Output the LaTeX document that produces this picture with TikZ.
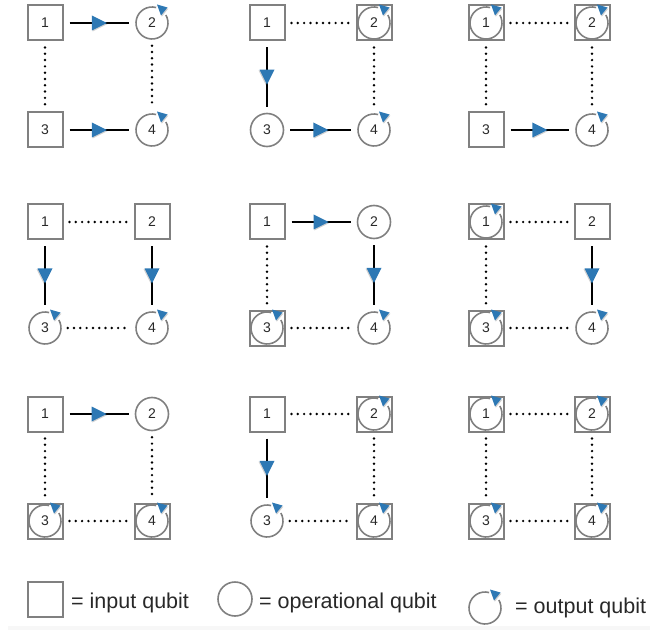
\documentclass[tikz,border=0pt]{standalone}
\usepackage{fontspec}
\setmainfont{Liberation Sans}
\usetikzlibrary{decorations.markings}

\definecolor{qgray}{RGB}{128,128,128}
\definecolor{qblue}{RGB}{45,120,180}
\definecolor{qtext}{RGB}{40,40,40}

\tikzset{
  qbase/.style={inner sep=0pt, text=qtext, font=\fontsize{14}{14}\selectfont},
  inq/.style={qbase, rectangle, draw=qgray, line width=2pt, minimum size=35pt},
  opq/.style={qbase, circle, draw=qgray, line width=1.6pt, minimum size=33pt},
  outq/.style={qbase, circle, minimum size=33pt},
  ring/.style={draw=qgray, line width=1.6pt},
  flow/.style={draw=black, line width=1.9pt, shorten <=6pt, shorten >=6pt,
    postaction={decorate},
    decoration={markings, mark=at position 0.5 with
      {\fill[black, opacity=0.18] (-6.7,6.5) -- (8.3,-1) -- (-6.7,-8.5) -- cycle;
       \fill[qblue] (-7.5,7.5) -- (7.5,0) -- (-7.5,-7.5) -- cycle;}}},
  link/.style={draw=black, line width=2.7pt, line cap=round,
    dash pattern=on 0pt off 6.3pt, shorten <=6pt, shorten >=6pt},
  legtext/.style={anchor=base west, inner sep=0pt, text=qtext,
    font=\fontsize{21.5}{21.5}\selectfont},
}

% open ring with a blue arrowhead at its upper right: marks an output qubit
\newcommand{\outring}[1]{%
  \draw[ring] ([shift={(75:16)}]#1.center) arc[start angle=75, end angle=390, radius=16];
  \fill[black, opacity=0.18] ([shift={(5.8,17.3)}]#1.center) -- ([shift={(16.3,14.3)}]#1.center)
    -- ([shift={(9.8,6.3)}]#1.center) -- cycle;
  \fill[qblue] ([shift={(5,18.5)}]#1.center) -- ([shift={(15.5,15.5)}]#1.center)
    -- ([shift={(9,7.5)}]#1.center) -- cycle;}

\begin{document}
\begin{tikzpicture}[x=1pt, y=1pt]
\useasboundingbox (0,0) rectangle (650,630);
\fill[gray!6] (8,0) rectangle (650,4);

% ---- row 1 ----
\node[inq]  (a1) at (45,607)  {1};
\node[outq] (a2) at (152,607) {2};
\node[inq]  (a3) at (45,500)  {3};
\node[outq] (a4) at (152,500) {4};
\draw[link] (a1) -- (a3);
\draw[link] (a2) -- (a4);
\draw[flow] (a1) -- (a2);
\draw[flow] (a3) -- (a4);
\outring{a2}\outring{a4}

\node[inq]  (b1) at (267,607) {1};
\node[inq]  (b2) at (374,607) {2};
\node[opq]  (b3) at (267,500) {3};
\node[outq] (b4) at (374,500) {4};
\draw[link] (b1) -- (b2);
\draw[link] (b2) -- (b4);
\draw[flow] (b1) -- (b3);
\draw[flow] (b3) -- (b4);
\outring{b2}\outring{b4}

\node[inq]  (c1) at (486,607) {1};
\node[inq]  (c2) at (592,607) {2};
\node[inq]  (c3) at (486,500) {3};
\node[outq] (c4) at (592,500) {4};
\draw[link] (c1) -- (c2);
\draw[link] (c1) -- (c3);
\draw[link] (c2) -- (c4);
\draw[flow] (c3) -- (c4);
\outring{c1}\outring{c2}\outring{c4}

% ---- row 2 ----
\node[inq]  (d1) at (45,408)  {1};
\node[inq]  (d2) at (152,408) {2};
\node[outq] (d3) at (45,302)  {3};
\node[outq] (d4) at (152,302) {4};
\draw[link] (d1) -- (d2);
\draw[link] (d3) -- (d4);
\draw[flow] (d1) -- (d3);
\draw[flow] (d2) -- (d4);
\outring{d3}\outring{d4}

\node[inq]  (e1) at (267,408) {1};
\node[opq]  (e2) at (374,408) {2};
\node[inq]  (e3) at (267,302) {3};
\node[outq] (e4) at (374,302) {4};
\draw[link] (e1) -- (e3);
\draw[link] (e3) -- (e4);
\draw[flow] (e1) -- (e2);
\draw[flow] (e2) -- (e4);
\outring{e3}\outring{e4}

\node[inq]  (f1) at (486,408) {1};
\node[inq]  (f2) at (592,408) {2};
\node[inq]  (f3) at (486,302) {3};
\node[outq] (f4) at (592,302) {4};
\draw[link] (f1) -- (f2);
\draw[link] (f1) -- (f3);
\draw[link] (f3) -- (f4);
\draw[flow] (f2) -- (f4);
\outring{f1}\outring{f3}\outring{f4}

% ---- row 3 ----
\node[inq]  (g1) at (45,216)  {1};
\node[opq]  (g2) at (152,216) {2};
\node[inq]  (g3) at (45,109)  {3};
\node[inq]  (g4) at (152,109) {4};
\draw[link] (g1) -- (g3);
\draw[link] (g2) -- (g4);
\draw[link] (g3) -- (g4);
\draw[flow] (g1) -- (g2);
\outring{g3}\outring{g4}

\node[inq]  (h1) at (267,216) {1};
\node[inq]  (h2) at (374,216) {2};
\node[outq] (h3) at (267,109) {3};
\node[inq]  (h4) at (374,109) {4};
\draw[link] (h1) -- (h2);
\draw[link] (h2) -- (h4);
\draw[link] (h3) -- (h4);
\draw[flow] (h1) -- (h3);
\outring{h2}\outring{h3}\outring{h4}

\node[inq] (i1) at (486,216) {1};
\node[inq] (i2) at (592,216) {2};
\node[inq] (i3) at (486,109) {3};
\node[inq] (i4) at (592,109) {4};
\draw[link] (i1) -- (i2);
\draw[link] (i1) -- (i3);
\draw[link] (i2) -- (i4);
\draw[link] (i3) -- (i4);
\outring{i1}\outring{i2}\outring{i3}\outring{i4}

% ---- legend ----
\node[inq]  (k1) at (45.5,31) {};
\node[legtext] (k1t) at (71,22) {= input qubit};
\node[opq, minimum size=34pt] (k2) at (235,31) {};
\node[legtext] (k2t) at (259,22) {= operational qubit};
\node[outq] (k3) at (485,22) {};
\outring{k3}
\node[legtext] (k3t) at (515,17) {= output qubit};
\end{tikzpicture}
\end{document}
